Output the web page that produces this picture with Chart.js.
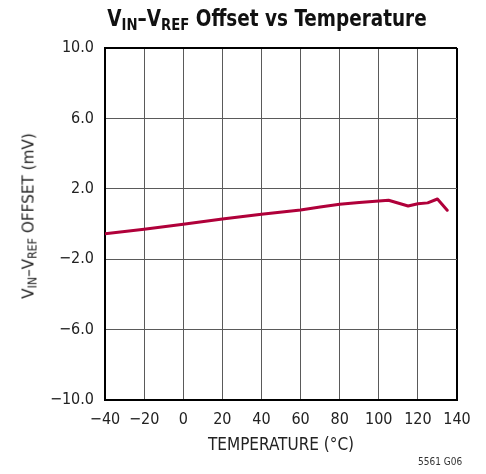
<!DOCTYPE html>
<html>
<head>
<meta charset="utf-8">
<script src="https://cdn.jsdelivr.net/npm/chart.js@4.4.1/dist/chart.umd.min.js"></script>
<style>
  html, body { margin: 0; padding: 0; background: #fff; }
  body { width: 486px; height: 474px; position: relative; overflow: hidden;
         font-family: 'Liberation Sans Narrow', 'DejaVu Sans Condensed', 'Roboto', sans-serif; color: #222; }
  #wrap { position: absolute; left: 0; top: 0; width: 486px; height: 474px; }
  .title { position: absolute; left: 0; width: 534px; top: 5px; text-align: center;
           font-size: 23px; font-weight: bold; color: #111; white-space: nowrap;
           transform: scaleX(0.89); transform-origin: 267px 0; }
  .ytitle { position: absolute; left: 28px; top: 216px; transform: translate(-50%, -50%) rotate(-90deg) scaleX(1.06);
            font-size: 16px; white-space: nowrap; color: #222; }
  sub { font-size: 0.72em; vertical-align: -0.25em; line-height: 0; }
  .note { position: absolute; left: 418px; top: 456px; font-size: 10px; color: #333; }
</style>
</head>
<body>
<div id="wrap"><canvas id="chart" width="486" height="474"></canvas></div>
<div class="title">V<sub>IN</sub>–V<sub>REF</sub> Offset vs Temperature</div>
<div class="ytitle">V<sub>IN</sub>–V<sub>REF</sub> OFFSET (mV)</div>
<div class="note">5561 G06</div>
<script>
const FONT = "'Liberation Sans Narrow', 'DejaVu Sans Condensed', 'Roboto', sans-serif";

// temperature (°C) and offset (mV)
const temps   = [-40, -20, 0, 20, 40, 60, 70, 80, 90, 100, 105, 115, 120, 125, 130, 135];
const offsets = [-0.55, -0.3, -0.02, 0.28, 0.56, 0.8, 0.97, 1.12, 1.22, 1.3, 1.35, 1.02, 1.15, 1.2, 1.42, 0.78];

const xRange = { min: -40, max: 140, step: 20 };
const yRange = { min: -10, max: 10, step: 4 };

const LINE  = '#b0003a';
const GRID  = '#5a5a5a';
const EDGE  = '#000';

const fmt = v => String(v).replace('-', '\u2212');

new Chart(document.getElementById('chart'), {
  type: 'line',
  data: {
    datasets: [{
      data: temps.map((t, i) => ({ x: t, y: offsets[i] })),
      borderColor: LINE, borderWidth: 3, pointRadius: 0, tension: 0,
      borderJoinStyle: 'round', borderCapStyle: 'round',
    }],
  },
  options: {
    responsive: false, animation: false,
    layout: { padding: { top: 48, right: 29, left: 0, bottom: 0 } },
    plugins: { legend: { display: false }, tooltip: { enabled: false } },
    scales: {
      x: {
        type: 'linear', min: xRange.min, max: xRange.max,
        afterFit: s => { s.height = 74; },
        ticks: { stepSize: xRange.step, padding: 10, color: '#222', font: { family: FONT, size: 16 },
                 callback: v => fmt(v) },
        grid: { drawTicks: false,
                color: c => c.tick && c.tick.value === xRange.max ? EDGE : GRID,
                lineWidth: c => c.tick && c.tick.value === xRange.max ? 2 : 1 },
        border: { color: EDGE, width: 2 },
        title: { display: true, text: 'TEMPERATURE (°C)', color: '#222',
                 font: { family: FONT, size: 17 }, padding: { top: 0, bottom: 18 } },
      },
      y: {
        type: 'linear', min: yRange.min, max: yRange.max,
        afterFit: s => { s.width = 105; },
        ticks: { stepSize: yRange.step, padding: 11, color: '#222', font: { family: FONT, size: 16 },
                 callback: v => fmt(v.toFixed(1)) },
        grid: { drawTicks: false,
                color: c => c.tick && c.tick.value === yRange.max ? EDGE : GRID,
                lineWidth: c => c.tick && c.tick.value === yRange.max ? 2 : 1 },
        border: { color: EDGE, width: 2 },
      },
    },
  },
});
</script>
</body>
</html>
